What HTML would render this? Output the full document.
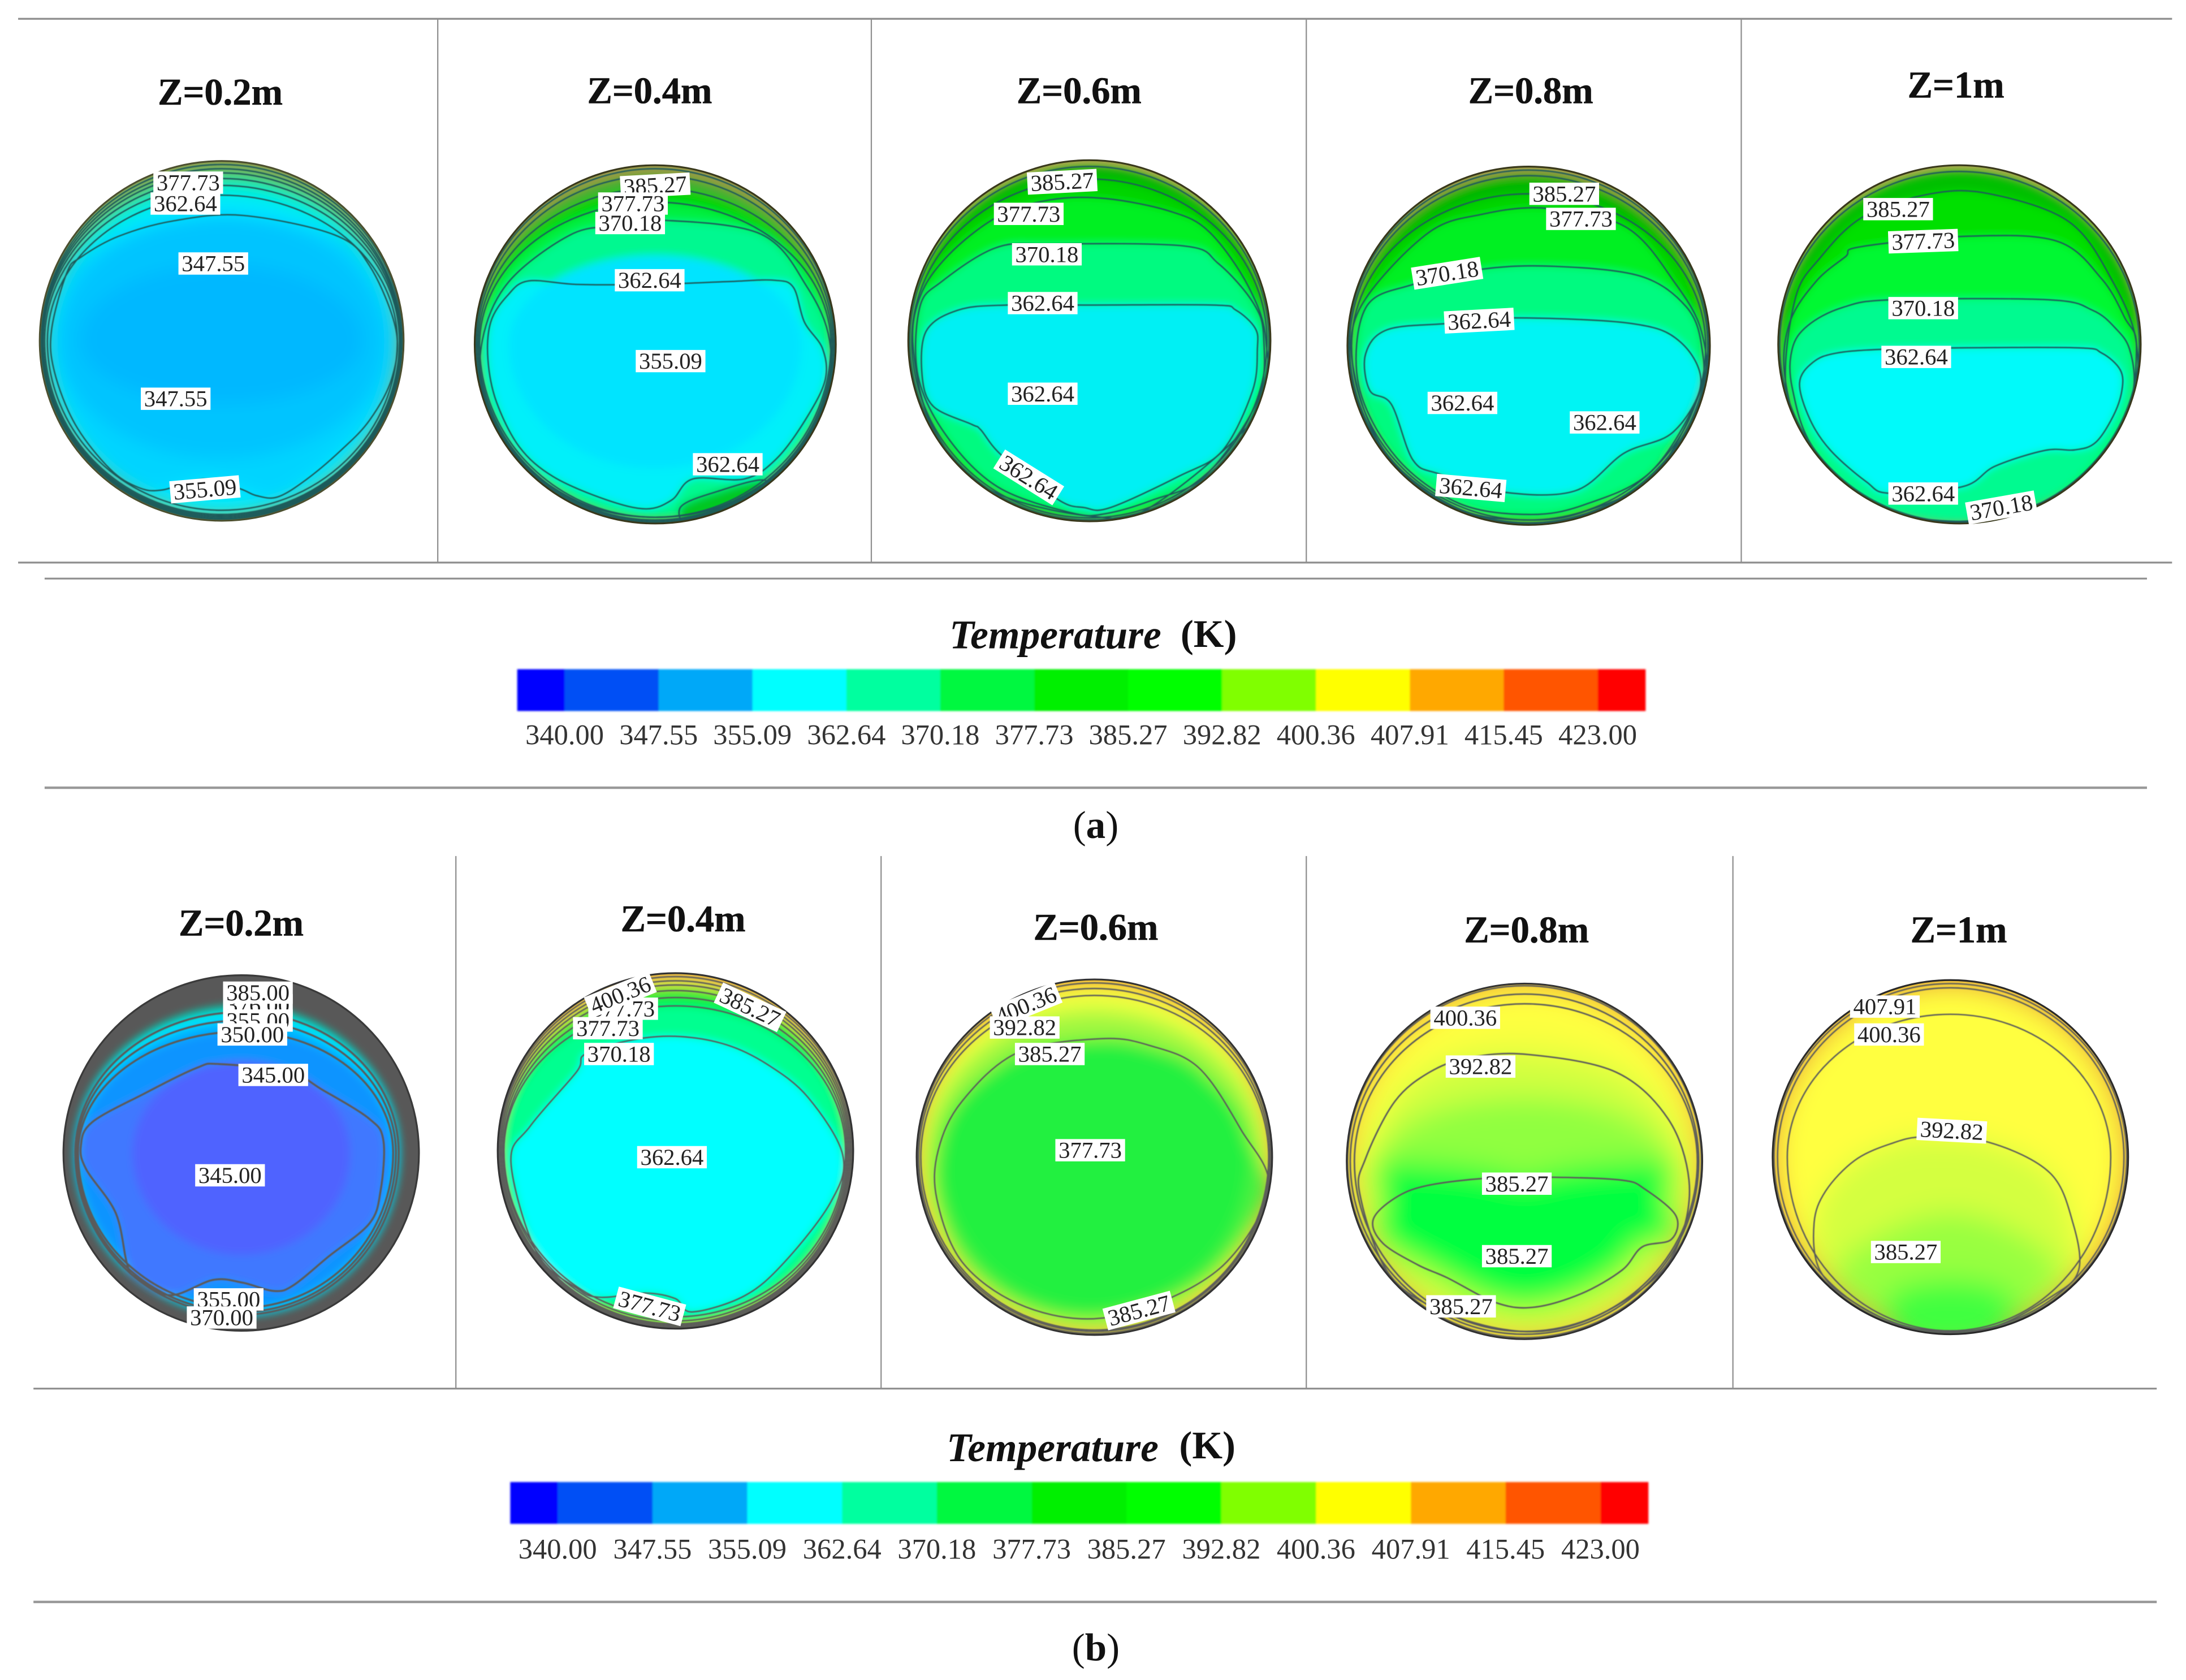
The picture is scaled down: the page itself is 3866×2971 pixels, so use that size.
<!DOCTYPE html>
<html lang="en">
<head>
<meta charset="utf-8">
<title>Temperature contours at axial positions</title>
<style>
html,body{margin:0;padding:0;background:#fff;}
svg{display:block;}
text{font-family:"Liberation Serif",serif;}
.title{font-weight:bold;font-size:27px;text-anchor:middle;fill:#111;stroke:#111;stroke-width:.25;}
.lbl{font-size:16.5px;text-anchor:middle;fill:#222;}
.tick{font-size:20.5px;text-anchor:middle;fill:#333;}
.hr{stroke:#8e8e8e;stroke-width:1.3;}
.vr{stroke:#8e8e8e;stroke-width:.9;}
</style>
</head>
<body>
<svg id="fig" xmlns="http://www.w3.org/2000/svg" width="3866" height="2971" viewBox="0 0 1568 1205" preserveAspectRatio="none">
  <defs>
    <filter id="soft3" x="-20%" y="-20%" width="140%" height="140%"><feGaussianBlur stdDeviation="3"/></filter>
    <filter id="soft6" x="-20%" y="-20%" width="140%" height="140%"><feGaussianBlur stdDeviation="6"/></filter>
    <filter id="soft10" x="-20%" y="-20%" width="140%" height="140%"><feGaussianBlur stdDeviation="10"/></filter>
    <filter id="softB" x="-5%" y="-20%" width="110%" height="140%"><feGaussianBlur stdDeviation="0.7"/></filter>
    <filter id="softL"><feGaussianBlur stdDeviation="0.3"/></filter>
  </defs>
  <rect width="1568" height="1205" fill="#fff"/>

  <g>
    <line class="hr" x1="13" y1="13.5" x2="1558" y2="13.5"/>
    <line class="hr" x1="13" y1="403.5" x2="1558" y2="403.5"/>
    <line class="vr" x1="314" y1="13" x2="314" y2="403"/>
    <line class="vr" x1="625" y1="13" x2="625" y2="403"/>
    <line class="vr" x1="937" y1="13" x2="937" y2="403"/>
    <line class="vr" x1="1249" y1="13" x2="1249" y2="403"/>
    <line class="hr" x1="32" y1="415" x2="1540" y2="415"/>
    <line class="hr" x1="32" y1="565" x2="1540" y2="565" style="stroke-width:1.8;stroke:#999"/>
  </g>
  <g>
    <line class="vr" x1="327" y1="614" x2="327" y2="996"/>
    <line class="vr" x1="632" y1="614" x2="632" y2="996"/>
    <line class="vr" x1="937" y1="614" x2="937" y2="996"/>
    <line class="vr" x1="1243" y1="614" x2="1243" y2="996"/>
    <line class="hr" x1="24" y1="996" x2="1547" y2="996"/>
    <line class="hr" x1="24" y1="1149" x2="1547" y2="1149" style="stroke-width:1.8;stroke:#999"/>
  </g>

  <text x="757" y="465" font-size="29" font-weight="bold" font-style="italic" text-anchor="middle" fill="#111">Temperature</text>
  <text x="867" y="464" font-size="28" font-weight="bold" text-anchor="middle" fill="#111">(K)</text>
  <text x="786" y="601" font-size="28" text-anchor="middle" fill="#111">(<tspan font-weight="bold">a</tspan>)</text>

  <text x="755" y="1048" font-size="29" font-weight="bold" font-style="italic" text-anchor="middle" fill="#111">Temperature</text>
  <text x="866" y="1046" font-size="28" font-weight="bold" text-anchor="middle" fill="#111">(K)</text>
  <text x="786" y="1191" font-size="28" text-anchor="middle" fill="#111">(<tspan font-weight="bold">b</tspan>)</text>

  <g id="legends"></g>
  <g id="panels"></g>
</svg>

<script>
/* ---------- legend data ---------- */
const legendTicks = [340.00,347.55,355.09,362.64,370.18,377.73,385.27,392.82,400.36,407.91,415.45,423.00];
const legendColors = ['#0000ff','#0050f5','#00a8f8','#00ffff','#00ff9f','#00f840','#00f000','#00ff00','#80ff00','#ffff00','#ffa800','#ff5500','#ff0000'];

/* ---------- contour data: t = isotherm (K), c = fill inside it,
   off = wall distances [top,right,bottom,left], p = section-plane points ---------- */
const contoursA1 = [
  {t:392.82,c:'#8f9a3c',off:[3,1,1.5,1.5]},
  {t:385.27,c:'#4fb050',off:[6,2,2,2]},
  {t:377.73,c:'#10d870',off:[9,2.5,3,2.5]},
  {t:370.18,c:'#00f0a0',off:[13,3,4,3]},
  {t:362.64,c:'#00f0e0',off:[18,3.5,5,4]},
  {t:355.09,c:'#00e8ff',off:[25,5,8,6]},
  {t:347.55,c:'#00d4ff',p:[[15,-90],[81,-76],[106,-54],[125,-8],[122,27],[106,57],[85,79],[60,100],[40,112],[25,111],[13,106],[-12,99],[-43,107],[-60,105],[-80,92],[-105,60],[-120,22],[-122,-8],[-111,-49],[-101,-60],[-74,-75],[-35,-86]]},
  {t:null,c:'#00c4ff',off:[40,14,45,14]},
  {t:null,c:'#00b8ff',off:[75,30,85,30]}
];
const labelsA1 = [['377.73',-24,-113.5,0],['362.64',-26,-98.5,0],['347.55',-6,-55.5,0],['347.55',-33,41.5,0],['355.09',-12,106.5,-5]];

const contoursA2 = [
  {t:400.36,c:'#8f9a3c',off:[3,1,1,1]},
  {t:392.82,c:'#40b030',off:[8,2,2,2]},
  {t:385.27,c:'#00d400',off:[17,3,3,3]},
  {t:377.73,c:'#00f040',off:[27,4,5,4]},
  {t:370.18,c:'#00f890',p:[[6,-89],[76,-79],[109,-41],[125,-3],[122,40],[95,85],[50,115],[0,124],[-50,115],[-95,85],[-122,40],[-124,-3],[-105,-45],[-60,-79],[-25,-85]]},
  {t:362.64,c:'#00f0fa',p:[[-91,-45.5],[-56,-43],[-4,-43],[52,-45],[85,-46],[99,-41],[107,-16],[120,3],[122,25],[109,52],[87,82],[64,96.5],[27,96.5],[12,111.5],[-6.5,118],[-35,111.5],[-73,95],[-97.5,73.5],[-114,41],[-120,11],[-118,-16],[-106,-35]]},
  {t:null,c:'#00e4ff',off:[65,25,40,25]},
  {t:377.73,c:'#00c820',p:[[18,117],[43,106],[80,98],[70,125],[27,132]]}
];
const labelsA2 = [['385.27',0,-114,-3],['377.73',-16,-101,0],['370.18',-18,-87,0],['362.64',-4,-46,0],['355.09',11,12,0],['362.64',52,86,0]];

const contoursA3 = [
  {t:392.82,c:'#00b800',off:[5,1.5,1.5,1.5]},
  {t:385.27,c:'#00d400',off:[14,3,3,3]},
  {t:377.73,c:'#00f020',p:[[-121.7,-31],[-101.5,-61],[-65.8,-89],[-28.5,-101],[11.8,-102],[58.4,-92.7],[86.3,-77.8],[114.2,-38.7],[126.7,0.5],[120.5,52.6],[46,118],[2.5,126],[-72,106.6],[-112.3,62],[-126.3,6]]},
  {t:370.18,c:'#00fa80',p:[[-121.7,-23.8],[-106,-42.4],[-67.3,-66.6],[-28.5,-69.4],[67.7,-68],[92.5,-55.4],[117.3,-27.5],[125,-3],[120.5,43],[83,97],[46,114],[11.8,124],[-13,123.4],[-65.8,104.8],[-103,67.5],[-123,24.7]]},
  {t:362.64,c:'#00f0f4',p:[[-117,-7],[-94,-22],[-59.6,-25.6],[2.5,-25.6],[89.4,-25.6],[105,-22],[119,-8.9],[120.5,6],[117,36],[95.6,78.7],[64.6,97],[15,119.7],[-3.7,119.7],[-22.3,114],[-62.7,82.4],[-78,63.8],[-84.4,60],[-112,47],[-120,24.7]]}
];
const labelsA3 = [['385.27',-19.5,-114,-3],['377.73',-43.5,-91,0],['370.18',-30.5,-62,0],['362.64',-33.5,-27,0],['362.64',-33.5,38,0],['362.64',-43.5,98,32]];

const contoursA4 = [
  {t:400.36,c:'#808838',off:[3,1,1,1]},
  {t:392.82,c:'#00b800',off:[7,2,2,2]},
  {t:385.27,c:'#00d400',off:[20,3.5,4,3.5]},
  {t:377.73,c:'#00f020',p:[[-122,-25],[-74,-79.5],[-33,-94.4],[14,-98.5],[70,-85],[105,-45],[124,-10],[124,30],[90,93],[40,119],[0,125],[-50,117],[-100,80],[-124,25]]},
  {t:370.18,c:'#00fa80',p:[[-117,-27],[-83,-44],[-33,-55],[18,-57],[80,-50],[113,-28],[124,0],[122,35],[88,90],[40,114],[0,121],[-50,113],[-95,80],[-122,28]]},
  {t:362.64,c:'#00f4f4',p:[[-117,6],[-101.5,-11.5],[-58,-16],[-11.5,-20],[73.5,-16],[108.5,-3],[123.5,27],[103.5,62],[68.5,77],[33.5,104],[-18,105],[-64,92],[-83,82],[-98.5,42],[-114,32]]}
];
const labelsA4 = [['385.27',25.5,-109,0],['377.73',37.5,-91,0],['370.18',-58.5,-52,-9],['362.64',-35.5,-18,-3],['362.64',-47.5,41,0],['362.64',54.5,55,0],['362.64',-41.5,102,5]];

const contoursA5 = [
  {t:392.82,c:'#00c000',off:[5,1.5,1.5,1.5]},
  {t:385.27,c:'#00e000',p:[[-118,-32],[-100,-62],[-69,-91.6],[-20.7,-108],[21.5,-108],[78.5,-88],[110,-45],[127,-0.3],[122,50],[85,100],[40,120],[0,127],[-55,118],[-100,84],[-124,35]]},
  {t:377.73,c:'#00f830',p:[[-122,-15],[-103,-45],[-82,-62.7],[-71,-70],[6.7,-77.6],[70,-74],[102,-47],[118.6,-19],[127,3],[116.5,68.6],[70,110],[0,127],[-65,115],[-108,76],[-125,25]]},
  {t:370.18,c:'#00fa90',p:[[-120,3.4],[-109,-13.3],[-84,-26.4],[-48,-32],[64,-32],[95.4,-24.5],[112,-11.5],[122,3.4],[125,31],[114,63],[85,96.6],[55,115],[0,128],[-63,115],[-105,74],[-120,31]]},
  {t:362.64,c:'#00fafa',p:[[-114.7,27.7],[-105,12.8],[-88,6.2],[-52,3.4],[0,2.5],[85,2.5],[102,6.2],[115.4,18.4],[116.5,33.2],[110,52],[97.5,70.5],[82.7,75.7],[61.6,76],[25.7,87.3],[2.5,102],[-50,106.8],[-67,98.4],[-92.5,76],[-107.3,53.7]]}
];
const labelsA5 = [['385.27',-44,-97,0],['377.73',-26,-74,-2],['370.18',-26,-26,0],['362.64',-31,9,0],['362.64',-26,107,0],['370.18',30,117,-10]];

const contoursB1 = [
  {t:null,c:'#00d0b0',off:[22,14,11,8]},
  {t:365,c:'#00e8ff',off:[27,15,12,9]},
  {t:355,c:'#00b4ff',off:[33,17,14,10]},
  {t:350,c:'#1094ff',off:[41,19,17,11]},
  {t:345,c:'#4078ff',p:[[-15.7,-63.8],[33.9,-58.2],[58.8,-45],[91.9,-24.5],[102,-9],[100,27],[92,50.5],[63,74],[38,94.5],[24,99],[1,93],[-20,91],[-51,102],[-76,89],[-82,79],[-90,43],[-111,12],[-115,-5],[-107,-22],[-69.5,-42.6],[-32,-61]]},
  {t:null,c:'#5064ff',off:[62,50,55,50]}
];
const labelsB1 = [['376.00',12,-106,0],['385.00',12,-115,0],['355.00',12,-95,0],['350.00',8,-85,0],['345.00',23,-56,0],['345.00',-8,16,0],['355.00',-9,105,0],['370.00',-14,118,0]];

const contoursB2 = [
  {t:407.91,c:'#ecd050',off:[3,1,1,1]},
  {t:400.36,c:'#d8e040',off:[6,2,2,1.5]},
  {t:392.82,c:'#a0e040',off:[9,3,3,2.5]},
  {t:385.27,c:'#30e830',off:[13,4,4,3.5]},
  {t:377.73,c:'#00f050',off:[18,5,6,4.5]},
  {t:370.18,c:'#00ff90',off:[24,6,9,5]},
  {t:362.64,c:'#00ffff',p:[[3.9,-82],[37,-76],[66,-62],[95,-38.5],[120,3],[111.5,36.5],[78,80],[49.4,104],[12,115.5],[0,106],[-21,102],[-54,105],[-70.6,98.6],[-99.6,72.8],[-118,8],[-104,-18],[-71,-56.6],[-64.4,-69.6],[-29,-80]]}
];
const labelsB2 = [['377.73',-37.5,-102,0],['400.36',-39.5,-112,-22],['377.73',-48.5,-88,0],['370.18',-40.5,-69.5,0],['385.27',53.5,-103,25],['362.64',-2.5,4.5,0],['377.73',-18.5,111.5,15]];

const contoursB3 = [
  {t:407.91,c:'#f8e040',off:[3,1,1.5,1]},
  {t:400.36,c:'#ffff40',off:[7,2,3,2]},
  {t:392.82,c:'#e4ff40',off:[12,3,4,3.5]},
  {t:null,c:'#a0f840',off:[24,7,6,7]},
  {t:385.27,c:'#50f040',p:[[5,-85],[40,-80],[75,-64],[105,-20],[125,22],[95,75],[45,105],[-5,116],[-55,105],[-95,75],[-113,30],[-112,-5],[-95,-40],[-55,-75]]},
  {t:null,c:'#20f040',off:[45,16,16,16]}
];
const labelsB3 = [['400.36',-49,-109,-22],['392.82',-50,-93,0],['385.27',-32,-74,0],['377.73',-3,-5,0],['385.27',32,110,-15]];

const contoursB4 = [
  {t:407.91,c:'#ffff40',off:[2,1,1.5,1]},
  {t:400.36,c:'#ffff40',off:[8,3,4,3]},
  {t:400.36,c:'#ffff40',off:[15,4,6,6]},
  {t:null,c:'#f4ff40',off:[35,10,8,10]},
  {t:392.82,c:'#d0ff40',p:[[3,-76.6],[65.6,-64],[103,-30.5],[118,13.5],[112,55],[91,86],[45,114],[-1,122],[-55.5,109],[-97,81],[-118,24],[-114,-2],[-93,-43],[-68,-64],[-39,-74.5]]},
  {t:null,c:'#90ff40',off:[82,25,24,25]},
  {t:385.27,c:'#00ff40',p:[[20,11.4],[70,13.5],[86.5,20],[108.6,39],[105.3,56],[84.4,61.4],[70,78],[40.5,95],[7,104.6],[-20,101.5],[-55.6,83.4],[-76.4,74.3],[-101.5,58.8],[-108.6,42],[-93,26.4],[-70,17.4],[-26,12]]},
  {t:null,c:'#00ff40',off:[145,20,32,20]}
];
const labelsB4 = [['400.36',-42.5,-103,0],['392.82',-31.5,-68,0],['385.27',-5.5,16,0],['385.27',-5.5,68,0],['385.27',-45.5,104,0]];

const contoursB5 = [
  {t:407.91,c:'#ffff40',off:[3,1.5,1,1.5]},
  {t:400.36,c:'#ffff40',off:[6,3.5,2,4]},
  {t:400.36,c:'#ffff40',off:[25,13,3,11]},
  {t:392.82,c:'#d4ff40',p:[[-18.5,-14.6],[27.5,-10.7],[71.4,11.3],[88,47.6],[92,81],[73.5,99.3],[27.5,122.6],[-26.8,122.6],[-68.6,104.5],[-93.7,81],[-97.8,47.6],[-89.5,24.3],[-68.6,2.3],[-43.5,-9.4]]},
  {t:null,c:'#98ff40',p:[[0,40],[50,55],[78,85],[40,122],[-40,122],[-82,85],[-50,55]]},
  {t:null,c:'#40ff40',p:[[0,88],[45,100],[30,135],[-30,135],[-45,100]]}
];
const labelsB5 = [['407.91',-47,-108,0],['400.36',-44,-88,0],['392.82',1,-19,3],['385.27',-32,68,0]];

const panelTitles = ['Z=0.2m','Z=0.4m','Z=0.6m','Z=0.8m','Z=1m'];

const NS = 'http://www.w3.org/2000/svg';
function make(tag, attrs){
  const el = document.createElementNS(NS, tag);
  for (const k in attrs) el.setAttribute(k, attrs[k]);
  return el;
}

/* ---------- legend ---------- */
function drawLegend(id, x340, x423, left, right, yTop, yBot, yLabel){
  const x = v => x340 + (v - legendTicks[0]) * (x423 - x340) / (legendTicks[legendTicks.length - 1] - legendTicks[0]);
  const root = document.getElementById('legends');
  const g = make('g', {filter:'url(#softB)'});
  
  
  root.appendChild(g);
  legendColors.forEach((col, i) => {
    const a = i === 0 ? left : x(legendTicks[i - 1]);
    const b = i === legendColors.length - 1 ? right : x(legendTicks[i]);
    const r = make('rect', {x:a, y:yTop, width:b - a + 0.4, height:yBot - yTop, fill:col});
    
    
    g.appendChild(r);
  });
  legendTicks.forEach(v => {
    const t = make('text', {x:x(v), y:yLabel, class:'tick'});
    
    
    t.textContent = v.toFixed(2);
    root.appendChild(t);
  });
}
drawLegend('a', 405, 1146, 371, 1180, 480, 510, 534);
drawLegend('b', 400, 1148, 366, 1182, 1063, 1093, 1118);

/* ---------- contour panels ---------- */
function smooth(pts, px, py){
  const n = pts.length;
  const P = i => pts[(i + n) % n];
  let d = 'M' + px(P(0)[0]).toFixed(1) + ',' + py(P(0)[1]).toFixed(1);
  for (let i = 0; i < n; i++){
    const p0 = P(i - 1), p1 = P(i), p2 = P(i + 1), p3 = P(i + 2);
    const c1x = px(p1[0] + (p2[0] - p0[0]) / 6), c1y = py(p1[1] + (p2[1] - p0[1]) / 6);
    const c2x = px(p2[0] - (p3[0] - p1[0]) / 6), c2y = py(p2[1] - (p3[1] - p1[1]) / 6);
    d += 'C' + c1x.toFixed(1) + ',' + c1y.toFixed(1) + ' ' + c2x.toFixed(1) + ',' + c2y.toFixed(1) + ' ' + px(p2[0]).toFixed(1) + ',' + py(p2[1]).toFixed(1);
  }
  return d + 'Z';
}
function ringPath(off, cx, cy, rx, ry){
  const top = ry - off[0], right = rx - off[1], bottom = ry - off[2], left = rx - off[3];
  return 'M' + cx + ',' + (cy - top) +
    'A' + right + ',' + top + ' 0 0 1 ' + (cx + right) + ',' + cy +
    'A' + right + ',' + bottom + ' 0 0 1 ' + cx + ',' + (cy + bottom) +
    'A' + left + ',' + bottom + ' 0 0 1 ' + (cx - left) + ',' + cy +
    'A' + left + ',' + top + ' 0 0 1 ' + cx + ',' + (cy - top) + 'Z';
}
function drawPanel(o, idx){
  const root = document.getElementById('panels');
  const px = v => o.cx + v, py = v => o.cy + v;
  const g = make('g', {});
  
  
  root.appendChild(g);

  const title = make('text', {x:o.tx, y:o.ty + 9, class:'title'});
  
  
  title.textContent = panelTitles[idx];
  g.appendChild(title);

  const clip = make('clipPath', {id:'clip-' + o.id});
  clip.appendChild(make('ellipse', {cx:o.cx, cy:o.cy, rx:o.rx, ry:o.ry}));
  g.appendChild(clip);

  const body = make('g', {'clip-path':'url(#clip-' + o.id + ')'});
  g.appendChild(body);
  const base = make('ellipse', {cx:o.cx, cy:o.cy, rx:o.rx, ry:o.ry, fill:o.base});
  
  
  body.appendChild(base);

  const fills = make('g', {filter:'url(#' + o.blur + ')'});
  body.appendChild(fills);
  const lines = make('g', {fill:'none', filter:'url(#softL)'});
  body.appendChild(lines);

  o.contours.forEach(k => {
    const d = k.off ? ringPath(k.off, o.cx, o.cy, o.rx, o.ry) : smooth(k.p, px, py);
    const f = make('path', {d:d, fill:k.c});
    
    
    fills.appendChild(f);
    if (k.t !== null){
      const l = make('path', {d:d, stroke:o.line, 'stroke-width':o.lw});
      
      
      lines.appendChild(l);
    }
  });

  const rim = make('ellipse', {cx:o.cx, cy:o.cy, rx:o.rx - 0.5, ry:o.ry - 0.5, fill:'none', stroke:o.rim, 'stroke-width':1.3});
  
  
  g.appendChild(rim);

  o.labels.forEach(a => {
    const lg = make('g', {transform:'translate(' + px(a[1]) + ',' + py(a[2]) + ') rotate(' + a[3] + ')'});
    
    
    lg.appendChild(make('rect', {x:-25, y:-8, width:50, height:16, fill:'#fff'}));
    const t = make('text', {x:0, y:5.5, class:'lbl'});
    t.textContent = a[0];
    lg.appendChild(t);
    g.appendChild(lg);
  });
}

const dark = '#1d5a5a', gray = '#5a5a5a', rimDark = '#39391c';
const panelsA = [
  {id:'a-z02',cx:159,cy:244.5,rx:131,ry:129.5,tx:158,ty:66,base:'#a09a50',line:dark,lw:1,rim:'#4c5030',blur:'soft6',contours:contoursA1,labels:labelsA1},
  {id:'a-z04',cx:470,cy:247,rx:130,ry:129,tx:466,ty:65,base:'#a09a50',line:dark,lw:1,rim:rimDark,blur:'soft3',contours:contoursA2,labels:labelsA2},
  {id:'a-z06',cx:781.4,cy:244.4,rx:130.4,ry:130,tx:774,ty:65,base:'#b0a850',line:dark,lw:1,rim:rimDark,blur:'soft3',contours:contoursA3,labels:labelsA3},
  {id:'a-z08',cx:1096.5,cy:248,rx:130.5,ry:129,tx:1098,ty:65,base:'#b0a850',line:dark,lw:1,rim:rimDark,blur:'soft3',contours:contoursA4,labels:labelsA4},
  {id:'a-z10',cx:1405.5,cy:247,rx:130.5,ry:129,tx:1403,ty:61,base:'#b0a850',line:dark,lw:1,rim:rimDark,blur:'soft3',contours:contoursA5,labels:labelsA5}
];
const panelsB = [
  {id:'b-z02',cx:173,cy:827,rx:128,ry:128,tx:173,ty:662,base:'#585858',line:gray,lw:1.4,rim:'#3a3a3a',blur:'soft3',contours:contoursB1,labels:labelsB1},
  {id:'b-z04',cx:484.5,cy:825.5,rx:128,ry:128,tx:490,ty:659,base:'#e8b040',line:gray,lw:1,rim:'#333',blur:'soft3',contours:contoursB2,labels:labelsB2},
  {id:'b-z06',cx:785,cy:830,rx:128,ry:128,tx:786,ty:665,base:'#eea838',line:gray,lw:1,rim:'#333',blur:'soft6',contours:contoursB3,labels:labelsB3},
  {id:'b-z08',cx:1093.5,cy:833,rx:128,ry:128,tx:1095,ty:667,base:'#eea838',line:gray,lw:1.1,rim:'#333',blur:'soft10',contours:contoursB4,labels:labelsB4},
  {id:'b-z10',cx:1399,cy:830,rx:128,ry:127.5,tx:1405,ty:667,base:'#e89838',line:gray,lw:1,rim:'#2a2a2a',blur:'soft10',contours:contoursB5,labels:labelsB5}
];
panelsA.forEach(drawPanel);
panelsB.forEach(drawPanel);
</script>
</body>
</html>
